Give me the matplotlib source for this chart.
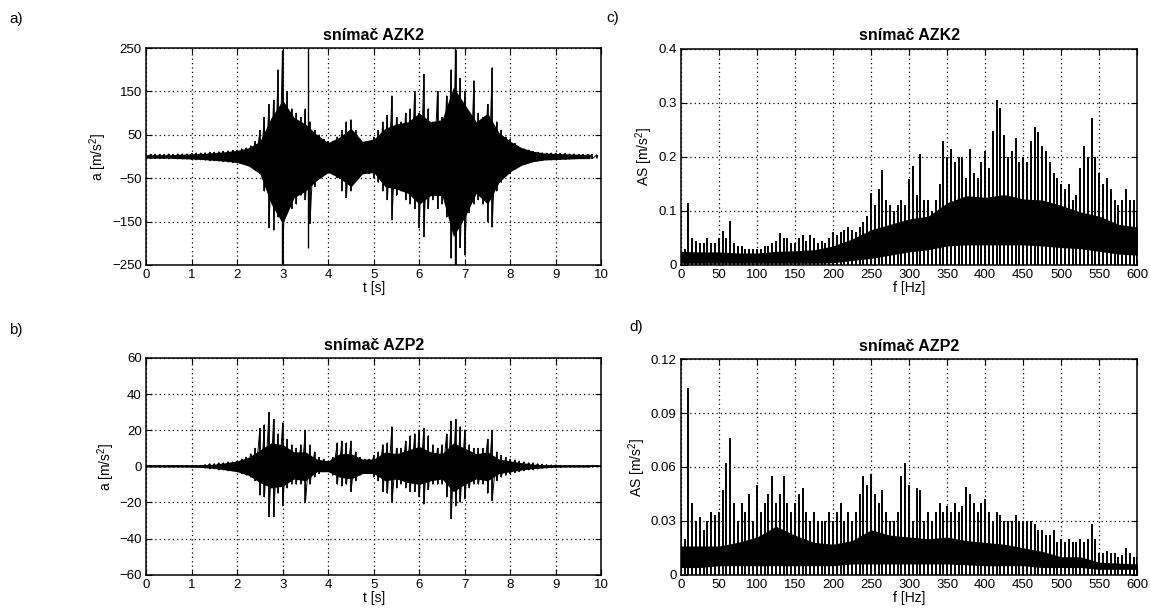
import numpy as np
import matplotlib.pyplot as plt

plt.rcParams['font.family'] = ['Liberation Sans', 'DejaVu Sans']
plt.rcParams['mathtext.default'] = 'regular'

# --- a) snimac AZK2, time signal: peak envelope every 0.1 s (0 .. 9.9 s)
t = np.arange(100) * 0.1
azk_up = [5, 5, 5, 5, 5, 6, 5, 6, 6, 6,
          7, 8, 8, 9, 10, 10, 11, 12, 13, 14,
          15, 18, 20, 25, 35, 60, 90, 120, 130, 200,
          240, 150, 110, 100, 90, 110, 80, 60, 50, 40,
          35, 35, 45, 60, 80, 85, 60, 40, 30, 35,
          45, 60, 80, 95, 140, 90, 80, 100, 110, 150,
          100, 190, 110, 80, 150, 90, 140, 200, 245, 180,
          150, 100, 175, 100, 90, 120, 205, 80, 60, 45,
          40, 30, 20, 18, 15, 12, 10, 9, 8, 8,
          8, 7, 7, 6, 6, 5, 5, 5, 5, 4]
azk_lo = [-5, -5, -5, -5, -5, -6, -5, -6, -6, -6,
          -7, -8, -8, -9, -10, -10, -11, -12, -13, -14,
          -12, -15, -20, -22, -30, -40, -80, -165, -170, -140,
          -250, -130, -120, -110, -90, -100, -155, -70, -50, -35,
          -30, -30, -50, -80, -95, -80, -50, -30, -30, -40,
          -50, -60, -80, -100, -147, -90, -80, -100, -110, -120,
          -165, -185, -120, -100, -120, -110, -140, -235, -250, -210,
          -227, -130, -110, -100, -110, -150, -163, -80, -60, -45,
          -40, -30, -20, -18, -15, -12, -10, -9, -8, -8,
          -8, -7, -7, -6, -6, -5, -5, -5, -5, -4]
# single tall spikes
azk_sp_t = [2.98, 3.55, 6.78]
azk_sp_up = [245, 250, 250]
azk_sp_lo = [-250, -210, -250]
# solid core every 0.25 s
tc = np.arange(40) * 0.25
azk_core_up = [4, 4, 4, 5, 6, 7, 9, 11, 14, 20, 35, 90, 130, 90, 75, 50, 32, 45, 65, 35,
               40, 65, 75, 80, 100, 80, 85, 160, 120, 80, 100, 55, 35, 20, 12, 8, 7, 6, 5, 5]
azk_core_lo = [-4, -4, -4, -5, -6, -7, -9, -11, -14, -22, -40, -110, -155, -95, -80, -55, -37, -50, -70, -40,
               -37, -70, -75, -85, -110, -90, -90, -185, -140, -85, -110, -60, -35, -20, -12, -8, -7, -6, -5, -5]

# --- b) snimac AZP2, time signal
azp_up = [0.5, 0.5, 0.5, 0.5, 0.5, 0.5, 0.5, 0.5, 0.5, 0.5,
          0.5, 0.5, 0.6, 1, 1.5, 1.5, 2, 2, 2.5, 2.5,
          3, 4, 5, 7, 10, 21, 23, 30, 26, 18,
          24, 15, 12, 10, 12, 20, 12, 8, 5, 4,
          3, 5, 13, 14, 13, 14, 8, 5, 4, 4,
          6, 8, 12, 13, 22, 10, 10, 14, 17, 18,
          20, 21, 17, 12, 10, 12, 18, 25, 26, 22,
          20, 12, 10, 10, 10, 15, 20, 8, 6, 5,
          4, 3.5, 3, 2.5, 2, 2, 1.5, 1.2, 1, 0.8,
          0.8, 0.6, 0.5, 0.5, 0.5, 0.5, 0.5, 0.5, 0.5, 0.5]
azp_lo = [-0.5, -0.5, -0.5, -0.5, -0.5, -0.5, -0.5, -0.5, -0.5, -0.5,
          -0.5, -0.5, -0.6, -1, -1.5, -1.5, -2, -2, -2.5, -2.5,
          -3, -4, -5, -6, -8, -16, -17, -28, -28, -15,
          -22, -12, -10, -10, -10, -20, -10, -6, -4, -3,
          -3, -5, -10, -11, -10, -14, -8, -5, -4, -4,
          -6, -8, -14, -15, -20, -12, -10, -12, -14, -14,
          -17, -21, -13, -10, -10, -10, -17, -29, -22, -20,
          -18, -12, -10, -10, -10, -15, -19, -8, -6, -5,
          -4, -3.5, -3, -2.5, -2, -2, -1.5, -1.2, -1, -0.8,
          -0.8, -0.6, -0.5, -0.5, -0.5, -0.5, -0.5, -0.5, -0.5, -0.5]
azp_core_up = [0.4, 0.4, 0.4, 0.4, 0.5, 0.7, 1.2, 2, 3, 5, 9, 13, 12, 8, 8, 4, 3, 7, 7, 4,
               4, 8, 7, 9, 11, 8, 7, 13, 10, 7, 8, 4, 3, 2, 1.2, 0.8, 0.5, 0.4, 0.4, 0.4]
azp_core_lo = [-0.4, -0.4, -0.4, -0.4, -0.5, -0.7, -1.2, -2, -3, -5, -9, -12, -11, -7, -8, -3, -3, -6, -7, -4,
               -4, -8, -7, -9, -10, -8, -7, -14, -10, -7, -8, -4, -3, -2, -1.2, -0.8, -0.5, -0.4, -0.4, -0.4]

# --- c), d) amplitude spectra: peak values every 5 Hz (0 .. 600 Hz)
f = np.arange(121) * 5
as_azk = [0.02, 0.03, 0.115, 0.05, 0.045, 0.04, 0.04, 0.05, 0.04, 0.04,
          0.05, 0.063, 0.05, 0.082, 0.04, 0.035, 0.035, 0.03, 0.03, 0.03,
          0.03, 0.03, 0.035, 0.035, 0.04, 0.045, 0.059, 0.05, 0.05, 0.04,
          0.04, 0.05, 0.055, 0.045, 0.055, 0.05, 0.04, 0.045, 0.04, 0.05,
          0.06, 0.055, 0.06, 0.065, 0.07, 0.065, 0.06, 0.07, 0.079, 0.09,
          0.133, 0.11, 0.14, 0.176, 0.12, 0.11, 0.1, 0.11, 0.12, 0.11,
          0.159, 0.183, 0.13, 0.206, 0.12, 0.12, 0.1, 0.12, 0.15, 0.229,
          0.2, 0.214, 0.19, 0.2, 0.2, 0.16, 0.214, 0.17, 0.16, 0.19,
          0.21, 0.18, 0.247, 0.305, 0.29, 0.24, 0.2, 0.21, 0.235, 0.19,
          0.2, 0.19, 0.23, 0.255, 0.245, 0.22, 0.21, 0.19, 0.17, 0.16,
          0.15, 0.14, 0.15, 0.12, 0.13, 0.18, 0.22, 0.2, 0.272, 0.2,
          0.17, 0.15, 0.16, 0.14, 0.12, 0.11, 0.12, 0.14, 0.12, 0.12,
          0.1]
as_azp = [0.03, 0.02, 0.104, 0.04, 0.03, 0.032, 0.025, 0.03, 0.035, 0.033,
          0.035, 0.047, 0.062, 0.076, 0.04, 0.03, 0.04, 0.035, 0.045, 0.03,
          0.05, 0.035, 0.04, 0.045, 0.055, 0.04, 0.045, 0.055, 0.04, 0.035,
          0.04, 0.045, 0.048, 0.035, 0.03, 0.035, 0.03, 0.03, 0.03, 0.035,
          0.03, 0.035, 0.04, 0.03, 0.035, 0.03, 0.035, 0.045, 0.055, 0.05,
          0.056, 0.045, 0.04, 0.047, 0.035, 0.03, 0.03, 0.035, 0.055, 0.062,
          0.05, 0.03, 0.048, 0.047, 0.03, 0.035, 0.03, 0.035, 0.04, 0.035,
          0.038, 0.035, 0.04, 0.035, 0.038, 0.049, 0.045, 0.04, 0.035, 0.04,
          0.042, 0.035, 0.03, 0.035, 0.033, 0.03, 0.03, 0.03, 0.033, 0.03,
          0.03, 0.03, 0.03, 0.028, 0.025, 0.025, 0.022, 0.022, 0.025, 0.018,
          0.02, 0.018, 0.02, 0.018, 0.018, 0.02, 0.018, 0.02, 0.028, 0.02,
          0.012, 0.012, 0.013, 0.012, 0.012, 0.01, 0.011, 0.015, 0.012, 0.01,
          0.01]
# solid core of the spectra every 25 Hz
fc = np.arange(25) * 25
azk_fcore_lo = [0.003, 0.003, 0.003, 0.003, 0.003, 0.003, 0.003, 0.003, 0.004, 0.008, 0.012, 0.018, 0.024,
                0.028, 0.035, 0.037, 0.037, 0.037, 0.037, 0.035, 0.032, 0.03, 0.025, 0.02, 0.018]
azk_fcore_up = [0.025, 0.024, 0.024, 0.022, 0.022, 0.025, 0.026, 0.028, 0.035, 0.048, 0.065, 0.075, 0.085,
                0.09, 0.115, 0.128, 0.125, 0.13, 0.122, 0.12, 0.11, 0.098, 0.09, 0.075, 0.07]
azp_fcore_lo = [0.004, 0.004, 0.005, 0.005, 0.005, 0.005, 0.005, 0.005, 0.005, 0.006, 0.006, 0.006, 0.006,
                0.006, 0.006, 0.0055, 0.005, 0.005, 0.005, 0.004, 0.004, 0.004, 0.003, 0.003, 0.003]
azp_fcore_up = [0.016, 0.016, 0.016, 0.018, 0.021, 0.027, 0.022, 0.018, 0.017, 0.019, 0.025, 0.022, 0.021,
                0.02, 0.021, 0.019, 0.018, 0.017, 0.015, 0.013, 0.01, 0.01, 0.007, 0.0065, 0.006]

fig = plt.figure(figsize=(11.5, 6.16), dpi=100)
ax_a = fig.add_axes([0.127, 0.570, 0.396, 0.352])
ax_c = fig.add_axes([0.592, 0.570, 0.397, 0.351])
ax_b = fig.add_axes([0.127, 0.067, 0.396, 0.352])
ax_d = fig.add_axes([0.592, 0.067, 0.397, 0.350])


def style(ax, title, xlabel, ylabel):
    ax.set_title(title, fontsize=11.5, fontweight='bold', pad=6)
    ax.set_xlabel(xlabel, fontsize=10, labelpad=0)
    ax.set_ylabel(ylabel, fontsize=10, labelpad=2)
    ax.grid(True, color='black', linestyle=(0, (1, 2.5)), linewidth=0.9)
    ax.tick_params(direction='in', top=True, right=True, length=4, labelsize=9.5, pad=3)
    for s in ax.spines.values():
        s.set_linewidth(1.1)


# a)
ax_a.fill_between(tc, azk_core_lo, azk_core_up, color='black', lw=0)
ax_a.vlines(t, azk_lo, azk_up, color='black', lw=1.2)
ax_a.plot(np.repeat(t, 2), np.ravel(np.column_stack([azk_up, azk_lo])), color='black', lw=0.7)
ax_a.vlines(azk_sp_t, azk_sp_lo, azk_sp_up, color='black', lw=1.0)
ax_a.set_xlim(0, 10)
ax_a.set_ylim(-250, 250)
ax_a.set_xticks(range(11))
ax_a.set_yticks([-250, -150, -50, 50, 150, 250])
style(ax_a, 'snímač AZK2', 't [s]', 'a [m/s$^2$]')

# b)
ax_b.fill_between(tc, azp_core_lo, azp_core_up, color='black', lw=0)
ax_b.vlines(t, azp_lo, azp_up, color='black', lw=1.2)
ax_b.plot(np.repeat(t, 2), np.ravel(np.column_stack([azp_up, azp_lo])), color='black', lw=0.7)
ax_b.axhline(0, color='black', lw=1.2)
ax_b.set_xlim(0, 10)
ax_b.set_ylim(-60, 60)
ax_b.set_xticks(range(11))
ax_b.set_yticks(range(-60, 61, 20))
style(ax_b, 'snímač AZP2', 't [s]', 'a [m/s$^2$]')

# c)
ax_c.fill_between(fc, azk_fcore_lo, azk_fcore_up, color='black', lw=0)
ax_c.vlines(f, 0, as_azk, color='black', lw=1.4)
ax_c.set_xlim(0, 600)
ax_c.set_ylim(0, 0.4)
ax_c.set_xticks(range(0, 601, 50))
ax_c.set_yticks([0, 0.1, 0.2, 0.3, 0.4])
ax_c.set_yticklabels(['0', '0.1', '0.2', '0.3', '0.4'])
style(ax_c, 'snímač AZK2', 'f [Hz]', 'AS [m/s$^2$]')

# d)
ax_d.fill_between(fc, azp_fcore_lo, azp_fcore_up, color='black', lw=0)
ax_d.vlines(f, 0, as_azp, color='black', lw=1.4)
ax_d.set_xlim(0, 600)
ax_d.set_ylim(0, 0.12)
ax_d.set_xticks(range(0, 601, 50))
ax_d.set_yticks([0, 0.03, 0.06, 0.09, 0.12])
ax_d.set_yticklabels(['0', '0.03', '0.06', '0.09', '0.12'])
style(ax_d, 'snímač AZP2', 'f [Hz]', 'AS [m/s$^2$]')

fig.text(0.008, 0.962, 'a)', fontsize=11)
fig.text(0.008, 0.458, 'b)', fontsize=11)
fig.text(0.527, 0.965, 'c)', fontsize=11)
fig.text(0.547, 0.462, 'd)', fontsize=11)

fig.savefig('out.png', dpi=100)
